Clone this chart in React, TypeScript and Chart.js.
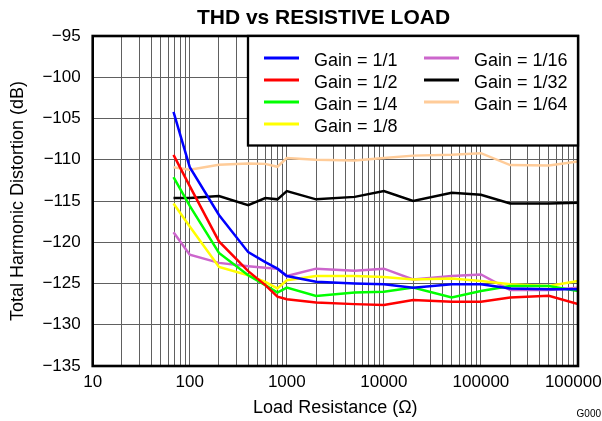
import React, { useEffect, useRef } from 'react';
import { Chart, registerables } from 'chart.js';

Chart.register(...registerables);

const FONT = "'Liberation Sans', Arial, Helvetica, sans-serif";

// Load resistance (ohms)
const resistance = [68, 100, 200, 400, 600, 800, 1000, 2000, 5000, 10000, 20000, 50000, 100000, 200000, 500000, 1000000];

// THD (dB) per gain setting
const gain1 = [-104.2, -110.9, -116.7, -121.2, -122.4, -123.2, -124.1, -124.8, -125.0, -125.1, -125.5, -125.1, -125.1, -125.6, -125.7, -125.7];
const gain2 = [-109.4, -113.2, -119.9, -123.5, -125.2, -126.6, -126.9, -127.3, -127.5, -127.6, -127.0, -127.2, -127.2, -126.7, -126.5, -127.5];
const gain4 = [-112.1, -115.6, -121.3, -124.0, -125.2, -126.1, -125.5, -126.5, -126.1, -126.0, -125.5, -126.7, -125.9, -125.3, -125.3, -125.9];
const gain8 = [-115.3, -118.1, -123.0, -124.0, -124.8, -125.6, -124.6, -124.1, -124.1, -124.2, -124.5, -124.4, -124.7, -125.1, -125.3, -124.7];
const gain16 = [-118.8, -121.5, -122.5, -122.9, -123.1, -123.2, -124.1, -123.2, -123.45, -123.2, -124.5, -124.1, -123.9, -125.8, -125.8, -125.5];
const gain32 = [-114.65, -114.65, -114.4, -115.5, -114.65, -114.8, -113.8, -114.8, -114.5, -113.8, -115.0, -114.0, -114.25, -115.3, -115.3, -115.2];
const gain64 = [-110.9, -111.2, -110.6, -110.45, -110.5, -110.85, -109.8, -110.0, -110.1, -109.8, -109.5, -109.4, -109.2, -110.65, -110.7, -110.2];

const seriesValues = [gain1, gain2, gain4, gain8, gain16, gain32, gain64];
const seriesLabels = ['Gain = 1/1', 'Gain = 1/2', 'Gain = 1/4', 'Gain = 1/8', 'Gain = 1/16', 'Gain = 1/32', 'Gain = 1/64'];
const seriesColors = ['#0000FF', '#FF0000', '#00FF00', '#FFFF00', '#CC66CC', '#000000', '#FFCC99'];

const xTickLabels = ['10', '100', '1000', '10000', '100000', '1000000'];
const xGridMultipliers = [1, 2, 3, 4, 5, 6, 7, 8, 9];
const yMin = -135;
const yMax = -95;
const yStep = 5;

const titleText = 'THD vs RESISTIVE LOAD';
const xTitle = 'Load Resistance (\u03A9)';
const yTitle = 'Total Harmonic Distortion (dB)';
const figureId = 'G000';

const decorPlugin = {
  id: 'decor',
  afterDraw(chart: any) {
    const { ctx, chartArea: a } = chart;
    ctx.save();
    // plot frame
    ctx.strokeStyle = '#000';
    ctx.lineWidth = 2.6;
    ctx.strokeRect(a.left, a.top, a.right - a.left, a.bottom - a.top);

    // legend box
    const bl = a.right - 330;
    const bt = a.top;
    const bh = 109.5;
    ctx.fillStyle = '#fff';
    ctx.fillRect(bl, bt, a.right - bl, bh);
    ctx.lineWidth = 2.3;
    ctx.strokeRect(bl, bt, a.right - bl, bh);

    ctx.font = `18px ${FONT}`;
    ctx.textAlign = 'left';
    ctx.textBaseline = 'alphabetic';
    chart.data.datasets.forEach((ds: any, i: number) => {
      const col = i < 4 ? 0 : 1;
      const row = i < 4 ? i : i - 4;
      const y = bt + 22 + row * 22;
      const lx = bl + (col === 0 ? 16 : 176);
      ctx.strokeStyle = ds.borderColor;
      ctx.lineWidth = 3;
      ctx.beginPath();
      ctx.moveTo(lx, y);
      ctx.lineTo(lx + 35, y);
      ctx.stroke();
      ctx.fillStyle = '#000';
      ctx.fillText(ds.label, lx + 50, y + 8);
    });

    // title
    ctx.font = `bold 21px ${FONT}`;
    ctx.textAlign = 'center';
    ctx.fillStyle = '#000';
    ctx.fillText(titleText, 323.5, 24.3);

    // figure id
    ctx.font = `10px ${FONT}`;
    ctx.textAlign = 'right';
    ctx.fillText(figureId, 601, 417);
    ctx.restore();
  },
};

export default function App() {
  const ref = useRef<HTMLCanvasElement>(null);

  useEffect(() => {
    if (!ref.current) return;
    const datasets = seriesValues.map((vals, i) => ({
      label: seriesLabels[i],
      data: resistance.map((r, j) => ({ x: r, y: vals[j] })),
      borderColor: seriesColors[i],
      backgroundColor: seriesColors[i],
      borderWidth: 2.5,
      pointRadius: 0,
      tension: 0,
      fill: false,
    }));

    const chart = new Chart(ref.current, {
      type: 'line',
      data: { datasets },
      plugins: [decorPlugin],
      options: {
        responsive: false,
        animation: false,
        devicePixelRatio: 1,
        layout: { padding: { top: 36, right: 24, bottom: 0, left: 4 } },
        plugins: {
          legend: { display: false },
          title: { display: false },
          tooltip: { enabled: false },
        },
        scales: {
          x: {
            type: 'logarithmic',
            min: 10,
            max: 1000000,
            afterBuildTicks: (scale: any) => {
              const ticks: any[] = [];
              xTickLabels.forEach((lab, d) => {
                const base = Number(lab);
                if (d === xTickLabels.length - 1) {
                  ticks.push({ value: base });
                } else {
                  xGridMultipliers.forEach((m) => ticks.push({ value: base * m }));
                }
              });
              scale.ticks = ticks;
            },
            afterFit: (scale: any) => {
              scale.paddingRight = 0;
              scale.paddingLeft = 0;
              scale.height = 55;
            },
            grid: { color: '#606060', lineWidth: 1, drawTicks: false },
            border: { display: false },
            ticks: {
              autoSkip: false,
              maxRotation: 0,
              minRotation: 0,
              padding: 6,
              color: '#000',
              font: { family: FONT, size: 17 },
              callback: (value: any) => {
                const lab = xTickLabels.find((l) => Number(l) === Number(value));
                return lab ?? '';
              },
            },
            title: {
              display: true,
              text: xTitle,
              color: '#000',
              font: { family: FONT, size: 18 },
              padding: { top: 0, bottom: 2 },
            },
          },
          y: {
            type: 'linear',
            min: yMin,
            max: yMax,
            afterFit: (scale: any) => {
              scale.width = 88.7;
            },
            grid: { color: '#606060', lineWidth: 1, drawTicks: false },
            border: { display: false },
            ticks: {
              stepSize: yStep,
              padding: 12,
              color: '#000',
              font: { family: FONT, size: 17 },
              callback: (value: any) => String(value).replace('-', '\u2212'),
            },
            title: {
              display: true,
              text: yTitle,
              color: '#000',
              font: { family: FONT, size: 18 },
              padding: { top: 3.5, bottom: 0 },
            },
          },
        },
      },
    } as any);
    return () => chart.destroy();
  }, []);

  return (
    <div style={{ position: 'fixed', left: 0, top: 0, width: 602, height: 421, background: '#fff' }}>
      <canvas ref={ref} width={602} height={421} />
    </div>
  );
}
